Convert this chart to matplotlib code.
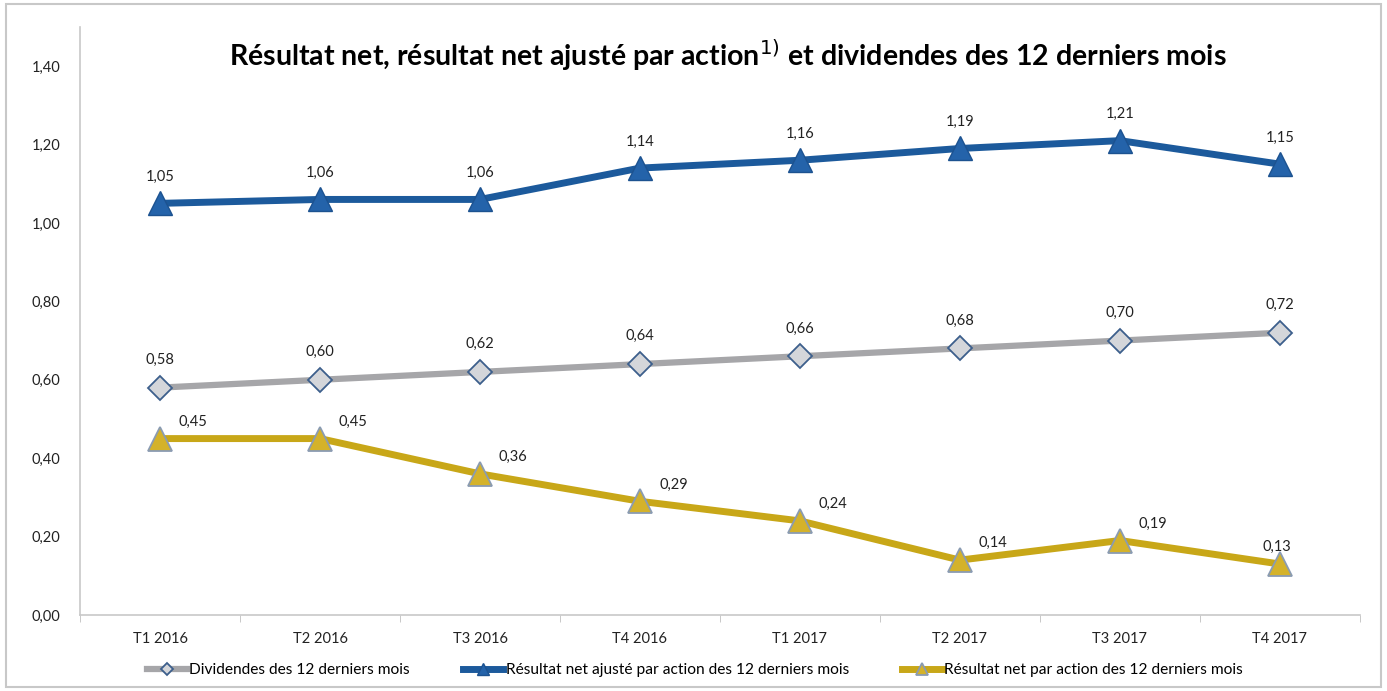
import matplotlib.pyplot as plt
from matplotlib.patches import Rectangle
from matplotlib.ticker import FuncFormatter

plt.rcParams['font.family'] = ['Lato', 'DejaVu Sans']

quarters = ['T1 2016', 'T2 2016', 'T3 2016', 'T4 2016', 'T1 2017', 'T2 2017', 'T3 2017', 'T4 2017']
dividendes = [0.58, 0.60, 0.62, 0.64, 0.66, 0.68, 0.70, 0.72]
ajuste = [1.05, 1.06, 1.06, 1.14, 1.16, 1.19, 1.21, 1.15]
net = [0.45, 0.45, 0.36, 0.29, 0.24, 0.14, 0.19, 0.13]

x = list(range(len(quarters)))

fig = plt.figure(figsize=(13.87, 6.91), dpi=100)
ax = fig.add_axes([0.0577, 0.110, 0.9228, 0.851])

fig.patches.append(Rectangle((0.004, 0.006), 0.992, 0.988, transform=fig.transFigure,
                             fill=False, edgecolor='#c8c8c8', linewidth=1.5))

ax.plot(x, dividendes, color='#a6a6a9', linewidth=4.5, marker='D', markersize=12,
        markerfacecolor='#d4d6da', markeredgecolor='#3d5f8c', markeredgewidth=1.3,
        label='Dividendes des 12 derniers mois', zorder=3)
ax.plot(x, ajuste, color='#1c5a9c', linewidth=5, marker='^', markersize=17,
        markerfacecolor='#2463aa', markeredgecolor='#1c5290', markeredgewidth=1,
        label='Résultat net ajusté par action des 12 derniers mois', zorder=3)
ax.plot(x, net, color='#c8a718', linewidth=5, marker='^', markersize=17,
        markerfacecolor='#d4b22a', markeredgecolor='#8a9bb2', markeredgewidth=1.3,
        label='Résultat net par action des 12 derniers mois', zorder=3)

fmt = lambda v: f'{v:.2f}'.replace('.', ',')
for i in x:
    ax.annotate(fmt(ajuste[i]), (i, ajuste[i]), xytext=(0, 14), textcoords='offset points',
                ha='center', va='bottom', fontsize=10.5, color='#222222')
    ax.annotate(fmt(dividendes[i]), (i, dividendes[i]), xytext=(0, 15), textcoords='offset points',
                ha='center', va='bottom', fontsize=10.5, color='#222222')
    dx = 24 if i < 7 else -2
    ax.annotate(fmt(net[i]), (i, net[i]), xytext=(dx, 7), textcoords='offset points',
                ha='center', va='bottom', fontsize=10.5, color='#222222')

ax.set_xlim(-0.5, 7.5)
ax.set_ylim(0, 1.5)
ax.set_yticks([0, 0.2, 0.4, 0.6, 0.8, 1.0, 1.2, 1.4])
ax.yaxis.set_major_formatter(FuncFormatter(lambda v, p: fmt(v)))
ax.set_xticks(x)
ax.set_xticklabels(quarters)
ax.set_xticks([i + 0.5 for i in range(-1, 8)], minor=True)
ax.tick_params(axis='x', which='major', length=0, pad=12, labelsize=10.5, colors='#222222')
ax.tick_params(axis='x', which='minor', length=5, color='#bfbfbf')
ax.tick_params(axis='y', length=0, pad=14, labelsize=10.5, colors='#222222')

for s in ['top', 'right']:
    ax.spines[s].set_visible(False)
ax.spines['left'].set_color('#c8c8c8')
ax.spines['bottom'].set_color('#c8c8c8')
ax.spines['left'].set_linewidth(1.2)
ax.spines['bottom'].set_linewidth(1.2)

fig.text(0.525, 0.92, 'Résultat net, résultat net ajusté par action$^{1)}$ et dividendes des 12 derniers mois',
         ha='center', va='center', fontsize=20.5, fontweight='bold')

ax.legend(loc='upper left', bbox_to_anchor=(0.041, -0.058), ncol=3, frameon=False,
          fontsize=11.2, handlelength=2.6, handletextpad=0.15, columnspacing=3.4, markerscale=0.55)

fig.savefig('out.png', dpi=100)
